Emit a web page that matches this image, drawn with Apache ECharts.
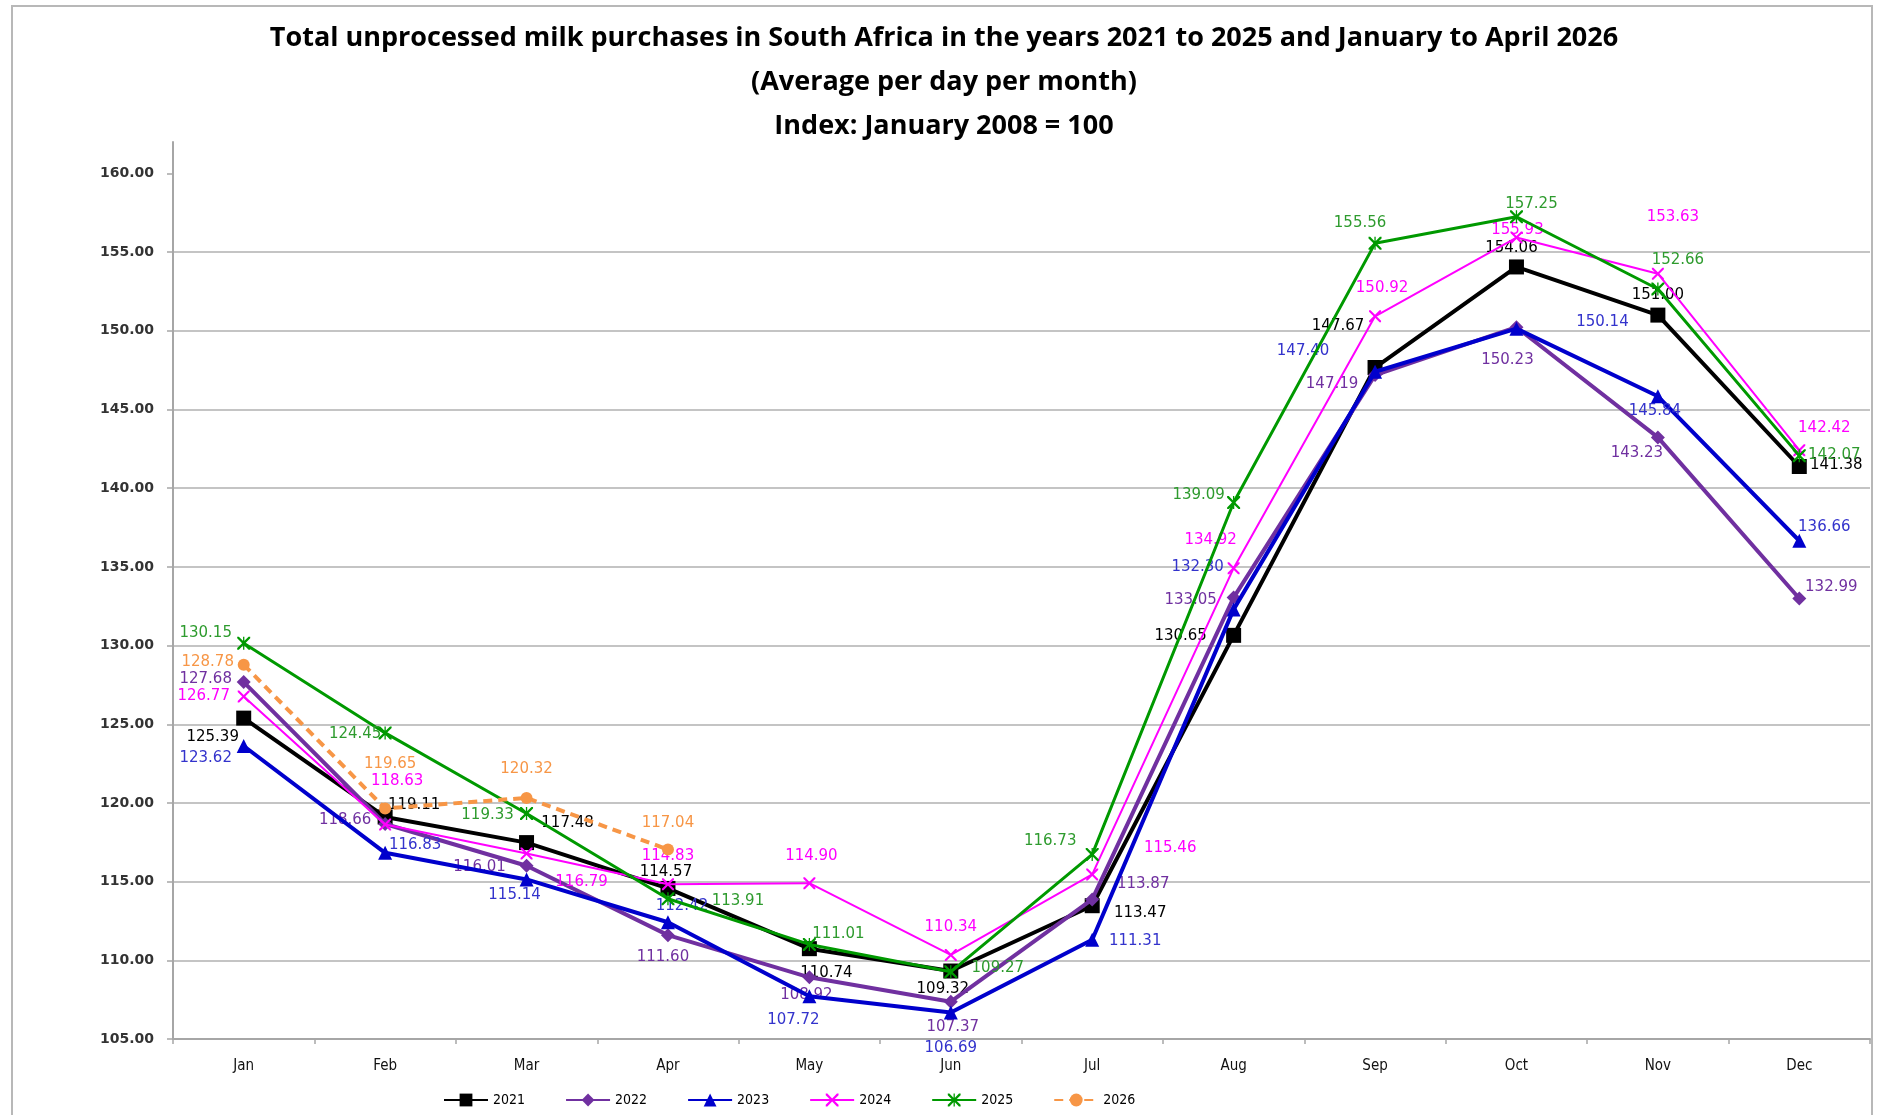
<!DOCTYPE html>
<html>
<head>
<meta charset="utf-8">
<script src="https://cdn.jsdelivr.net/npm/echarts@6/dist/echarts.min.js"></script>
<style>
  html, body { margin: 0; padding: 0; background: #fff; }
  #chart { width: 1879px; height: 1115px; }
</style>
</head>
<body>
<div id="chart"></div>
<script>
const months = ['Jan', 'Feb', 'Mar', 'Apr', 'May', 'Jun', 'Jul', 'Aug', 'Sep', 'Oct', 'Nov', 'Dec'];

const y2021 = [125.39, 119.11, 117.48, 114.57, 110.74, 109.32, 113.47, 130.65, 147.67, 154.06, 151.00, 141.38];
const y2022 = [127.68, 118.66, 116.01, 111.60, 108.92, 107.37, 113.87, 133.05, 147.19, 150.23, 143.23, 132.99];
const y2023 = [123.62, 116.83, 115.14, 112.42, 107.72, 106.69, 111.31, 132.30, 147.40, 150.14, 145.84, 136.66];
const y2024 = [126.77, 118.63, 116.79, 114.83, 114.90, 110.34, 115.46, 134.92, 150.92, 155.93, 153.63, 142.42];
const y2025 = [130.15, 124.45, 119.33, 113.91, 111.01, 109.27, 116.73, 139.09, 155.56, 157.25, 152.66, 142.07];
const y2026 = [128.78, 119.65, 120.32, 117.04];

const titleLines = [
  'Total unprocessed milk purchases in South Africa in the years 2021 to 2025 and January to April 2026',
  '(Average per day per month)',
  'Index: January 2008 = 100'
];

// label nudges (px) so the data labels sit where the original chart put them
const labelNudge = {
  '2021': [[-31, 19], [29, -12], [41, -19], [-2, -16], [17, 24], [-8, 18], [48, 7], [-53, 1], [-37, -41], [-5, -19], [0, -20], [37, -1]],
  '2022': [[-38, -3], [-40, -4], [-47, 1], [-5, 22], [-3, 18], [2, 25], [51, -15], [-43, 3], [-43, 9], [-9, 33], [-21, 16], [32, -11]],
  '2023': [[-38, 12], [30, -8], [-12, 16], [14, -16], [-16, 24], [0, 36], [43, 1], [-36, -42], [-72, -21], [86, -7], [-3, 15], [25, -14]],
  '2024': [[-40, 0], [12, -43], [55, 29], [0, -28], [2, -27], [0, -28], [78, -26], [-23, -28], [7, -28], [1, -7], [15, -57], [25, -22]],
  '2025': [[-38, -10], [-30, 1], [-39, 2], [70, 2], [29, -10], [47, -4], [-42, -13], [-35, -7], [-15, -20], [15, -13], [20, -29], [35, -1]],
  '2026': [[-36, -3], [5, -44], [0, -29], [0, -26]]
};

const crossPath = 'path://M0,0 L2.5,0 L10,7.5 L17.5,0 L20,0 L20,2.5 L12.5,10 L20,17.5 L20,20 L17.5,20 L10,12.5 L2.5,20 L0,20 L0,17.5 L7.5,10 L0,2.5 Z';
const starPath = crossPath.replace(' Z', ' Z M9,0 L11,0 L11,20 L9,20 Z');

function makeSeries(name, values, opts) {
  const nudges = labelNudge[name];
  return {
    name,
    type: 'line',
    data: values.map((v, i) => ({
      value: v,
      label: { offset: nudges[i] }
    })),
    symbol: opts.symbol,
    symbolSize: opts.symbolSize,
    itemStyle: { color: opts.color },
    lineStyle: { color: opts.color, width: opts.width, type: opts.dash ? [9, 6] : 'solid' },
    label: {
      show: true,
      position: 'inside',
      color: opts.labelColor,
      fontFamily: 'DejaVu Sans',
      fontSize: 15,
      formatter: p => p.value.toFixed(2)
    },
    emphasis: { disabled: true },
    z: opts.z
  };
}

const chart = echarts.init(document.getElementById('chart'), null, { renderer: 'canvas' });

chart.setOption({
  animation: false,
  backgroundColor: '#fff',
  title: {
    text: titleLines.join('\n'),
    left: 939,
    top: 11,
    textAlign: 'center',
    textStyle: {
      fontFamily: 'Open Sans',
      fontWeight: 'bold',
      fontSize: 27,
      lineHeight: 44,
      color: '#000'
    }
  },
  graphic: [{
    type: 'rect',
    shape: { x: 12, y: 6, width: 1860, height: 1130 },
    style: { fill: 'none', stroke: '#b8b8b8', lineWidth: 2 },
    silent: true
  }],
  legend: {
    left: 438,
    top: 1088,
    itemWidth: 44,
    itemHeight: 16,
    itemGap: 40,
    textStyle: { fontFamily: 'DejaVu Sans Condensed', fontSize: 14, color: '#000' },
    data: ['2021', '2022', '2023', '2024', '2025', '2026']
  },
  grid: { left: 173, right: 9, top: 142, bottom: 76 },
  xAxis: {
    type: 'category',
    data: months,
    boundaryGap: true,
    axisLine: { lineStyle: { color: '#a6a6a6', width: 2 } },
    axisTick: { show: true, length: 5, lineStyle: { color: '#a6a6a6', width: 1.5 } },
    axisLabel: { fontFamily: 'DejaVu Sans Condensed', fontSize: 15, color: '#111', margin: 20 },
    splitLine: { show: false }
  },
  yAxis: {
    type: 'value',
    min: 105,
    max: 162,
    interval: 5,
    axisLine: { show: true, lineStyle: { color: '#a6a6a6', width: 2 } },
    axisTick: { show: true, length: 6, inside: false, lineStyle: { color: '#a6a6a6', width: 1.5 },
      customValues: [105, 110, 115, 120, 125, 130, 135, 140, 145, 150, 155, 160] },
    axisLabel: {
      fontFamily: 'DejaVu Sans',
      fontSize: 14,
      fontWeight: 'bold',
      color: '#333',
      margin: 19,
      showMaxLabel: false,
      formatter: v => (v % 5 === 0 ? v.toFixed(2) : '')
    },
    splitLine: { show: true, showMaxLine: false, lineStyle: { color: '#b0b0b0', width: 1.5 } }
  },
  series: [
    makeSeries('2021', y2021, { color: '#000000', labelColor: '#000000', symbol: 'rect', symbolSize: 15, width: 4, z: 2 }),
    makeSeries('2022', y2022, { color: '#7030A0', labelColor: '#7030A0', symbol: 'diamond', symbolSize: 14, width: 4, z: 3 }),
    makeSeries('2023', y2023, { color: '#0000CC', labelColor: '#3333CC', symbol: 'triangle', symbolSize: 14, width: 4, z: 4 }),
    makeSeries('2024', y2024, { color: '#FF00FF', labelColor: '#FF00FF', symbol: crossPath, symbolSize: 12, width: 2, z: 5 }),
    makeSeries('2025', y2025, { color: '#009900', labelColor: '#2E9B2E', symbol: starPath, symbolSize: 13, width: 3, z: 6 }),
    makeSeries('2026', y2026, { color: '#F79646', labelColor: '#F79646', symbol: 'circle', symbolSize: 12, width: 4, dash: true, z: 7 })
  ]
});
</script>
</body>
</html>
